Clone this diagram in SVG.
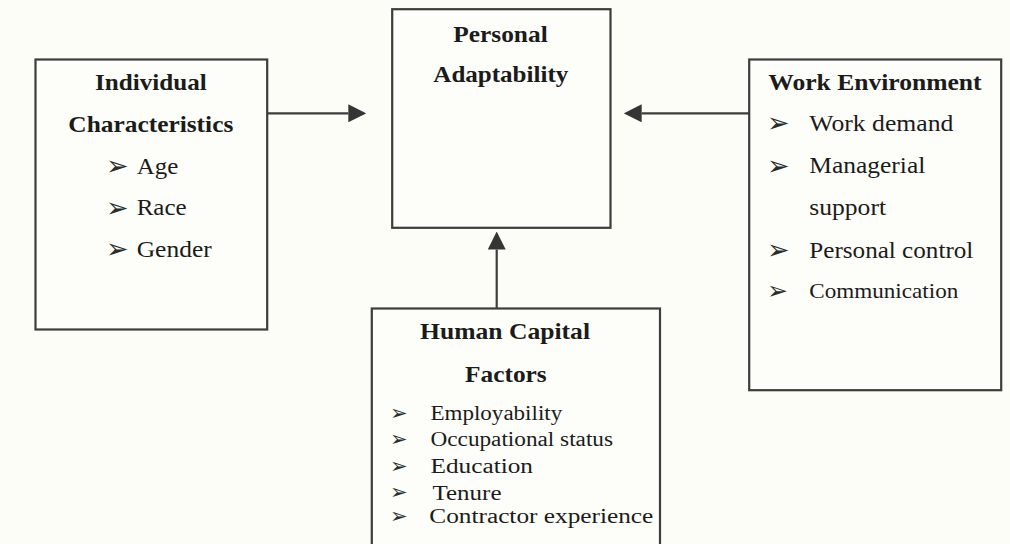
<svg xmlns="http://www.w3.org/2000/svg" width="1010" height="544" viewBox="0 0 1010 544">
  <style>
    .box { fill: #fdfdf9; stroke: #3b3e3b; stroke-width: 2.2; }
    .link { stroke: #3b3e3b; stroke-width: 2.2; fill: none; }
    .title { font-family: "Liberation Serif", "Times New Roman", serif; font-weight: bold; font-size: 24px; fill: #1b1b1b; }
    .item { font-family: "Liberation Serif", "Times New Roman", serif; font-size: 23.5px; fill: #1b1b1b; }
    .list { font-size: 20px; }
    .small { font-size: 21px; }
    .bullet { font-family: "DejaVu Sans", sans-serif; font-size: 27px; fill: #2a2d2a; }
    .bsmall { font-size: 25px; }
    .blist { font-size: 21px; }
  </style>
  <defs>
    <marker id="head" markerUnits="userSpaceOnUse" markerWidth="18" markerHeight="18" refX="0" refY="9" orient="auto">
      <path d="M0,0 L18,9 L0,18 z" fill="#333634"/>
    </marker>
  </defs>

  <rect width="1010" height="544" fill="#fdfdf8"/>

  <!-- connectors -->
  <g id="connectors">
    <line class="link" x1="267" y1="113.3" x2="348.3" y2="113.3" marker-end="url(#head)"/>
    <line class="link" x1="749" y1="113.3" x2="641.7" y2="113.3" marker-end="url(#head)"/>
    <line class="link" x1="496.7" y1="308.5" x2="496.7" y2="249.5" marker-end="url(#head)"/>
  </g>

  <!-- Individual Characteristics -->
  <g id="individual">
    <rect class="box" x="35.5" y="59.5" width="231.7" height="270"/>
    <text class="title" x="95" y="90" textLength="111.7" lengthAdjust="spacingAndGlyphs">Individual</text>
    <text class="title" x="68.3" y="131.7" textLength="165" lengthAdjust="spacingAndGlyphs">Characteristics</text>
    <text class="bullet" x="106" y="175">➢</text>
    <text class="item" x="136.7" y="173.5" textLength="41.6" lengthAdjust="spacingAndGlyphs">Age</text>
    <text class="bullet" x="106" y="216.5">➢</text>
    <text class="item" x="136.7" y="215" textLength="50" lengthAdjust="spacingAndGlyphs">Race</text>
    <text class="bullet" x="106" y="258">➢</text>
    <text class="item" x="136.7" y="256.5" textLength="75" lengthAdjust="spacingAndGlyphs">Gender</text>
  </g>

  <!-- Personal Adaptability -->
  <g id="adaptability">
    <rect class="box" x="392.2" y="9.2" width="218.3" height="218.6"/>
    <text class="title" x="453.3" y="41.5" textLength="94.4" lengthAdjust="spacingAndGlyphs">Personal</text>
    <text class="title" x="433.3" y="81.7" textLength="135" lengthAdjust="spacingAndGlyphs">Adaptability</text>
  </g>

  <!-- Work Environment -->
  <g id="work-environment">
    <rect class="box" x="749.2" y="59.5" width="252" height="330.7"/>
    <text class="title" x="768.3" y="90" textLength="213.3" lengthAdjust="spacingAndGlyphs">Work Environment</text>
    <text class="bullet" x="767" y="132">➢</text>
    <text class="item" x="809.3" y="130.7" textLength="144" lengthAdjust="spacingAndGlyphs">Work demand</text>
    <text class="bullet" x="767" y="174.5">➢</text>
    <text class="item" x="809.3" y="173.3" textLength="116" lengthAdjust="spacingAndGlyphs">Managerial</text>
    <text class="item" x="809.3" y="215" textLength="76.7" lengthAdjust="spacingAndGlyphs">support</text>
    <text class="bullet" x="767" y="259">➢</text>
    <text class="item" x="809.3" y="257.5" textLength="164" lengthAdjust="spacingAndGlyphs">Personal control</text>
    <text class="bullet bsmall" x="767" y="298.5">➢</text>
    <text class="item small" x="809.3" y="297.5" textLength="149" lengthAdjust="spacingAndGlyphs">Communication</text>
  </g>

  <!-- Human Capital Factors -->
  <g id="human-capital">
    <rect class="box" x="371.8" y="308.5" width="288.2" height="250"/>
    <text class="title" x="420" y="339.3" textLength="170" lengthAdjust="spacingAndGlyphs">Human Capital</text>
    <text class="title" x="465" y="381.7" textLength="81.7" lengthAdjust="spacingAndGlyphs">Factors</text>
    <text class="bullet blist" x="390" y="420">➢</text>
    <text class="item list" x="430.5" y="420" textLength="131.7" lengthAdjust="spacingAndGlyphs">Employability</text>
    <text class="bullet blist" x="390" y="446">➢</text>
    <text class="item list" x="430.5" y="446" textLength="182.5" lengthAdjust="spacingAndGlyphs">Occupational status</text>
    <text class="bullet blist" x="390" y="472.5">➢</text>
    <text class="item list" x="430.5" y="472.5" textLength="102.5" lengthAdjust="spacingAndGlyphs">Education</text>
    <text class="bullet blist" x="390" y="498.5">➢</text>
    <text class="item list" x="432.5" y="499.5" textLength="69" lengthAdjust="spacingAndGlyphs">Tenure</text>
    <text class="bullet blist" x="390" y="522.5">➢</text>
    <text class="item list" x="429.3" y="523" textLength="224" lengthAdjust="spacingAndGlyphs">Contractor experience</text>
  </g>
</svg>
